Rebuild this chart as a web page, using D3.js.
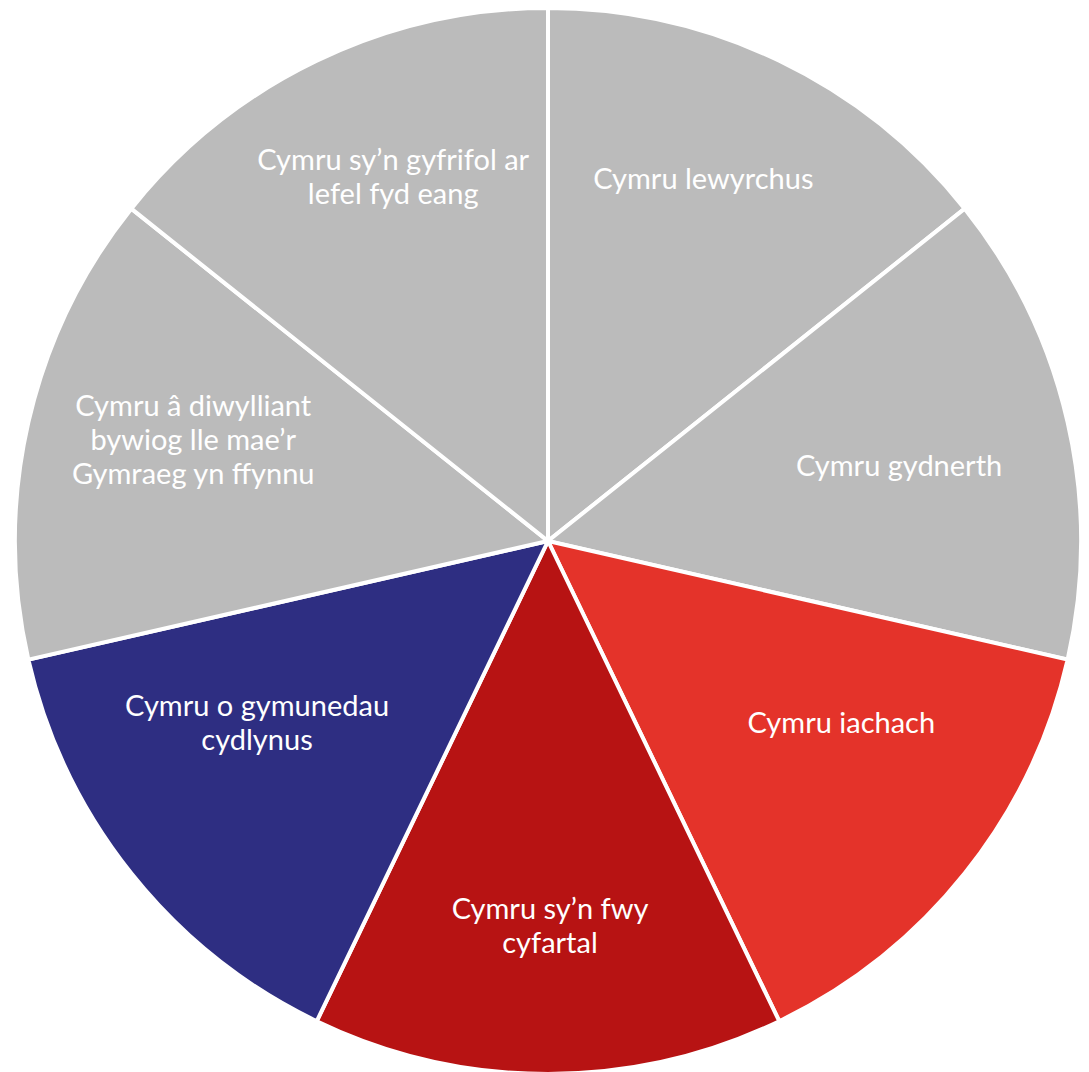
<!DOCTYPE html>
<html><head><meta charset="utf-8">
<script src="https://cdn.jsdelivr.net/npm/d3@7"></script>
<style>html,body{margin:0;padding:0;background:#fff;}</style>
</head><body>
<svg id="chart" width="1089" height="1072"></svg>
<script>
const categories = [
  ["Cymru lewyrchus"],
  ["Cymru gydnerth"],
  ["Cymru iachach"],
  ["Cymru sy\u2019n fwy", "cyfartal"],
  ["Cymru o gymunedau", "cydlynus"],
  ["Cymru \u00e2 diwylliant", "bywiog lle mae\u2019r", "Gymraeg yn ffynnu"],
  ["Cymru sy\u2019n gyfrifol ar", "lefel fyd  eang"]
];
const values = [1, 1, 1, 1, 1, 1, 1];
const colors = ["#BBBBBB", "#BBBBBB", "#E4332A", "#B71313", "#2E2E82", "#BBBBBB", "#BBBBBB"];
// label placement: [angle offset from slice middle (deg), distance from centre (px)]
const labelPlacement = [[-2.5, 394], [0.8, 359], [-6.8, 345], [-0.3, 385], [6.6, 343], [3.1, 369], [2.7, 396]];

const svg = d3.select("#chart");
const cx = 548, cy = 541, R = 533;
const g = svg.append("g").attr("transform", `translate(${cx},${cy})`);

const pie = d3.pie().sort(null).value(d => d)(values);
const arc = d3.arc().innerRadius(0).outerRadius(R);

g.selectAll("path.slice").data(pie).join("path")
  .attr("class", "slice")
  .attr("d", arc)
  .attr("fill", (d, i) => colors[i])
  .attr("stroke", "#fff")
  .attr("stroke-width", 4)
  .attr("stroke-linejoin", "miter");

const lineH = 34;
const labels = g.selectAll("text.lbl").data(pie).join("text")
  .attr("class", "lbl")
  .attr("text-anchor", "middle")
  .attr("fill", "#fff")
  .style("font-family", "Lato, 'Open Sans', sans-serif")
  .style("font-size", "29px")
  .attr("transform", (d, i) => {
    const a = (d.startAngle + d.endAngle) / 2 + labelPlacement[i][0] * Math.PI / 180;
    const r = labelPlacement[i][1];
    return `translate(${r * Math.sin(a)},${-r * Math.cos(a)})`;
  });

labels.each(function(d, i) {
  const lines = categories[i];
  const t = d3.select(this);
  const off = -(lines.length - 1) * lineH / 2;
  lines.forEach((ln, j) => {
    t.append("tspan").attr("x", 0).attr("y", off + j * lineH).attr("dy", "0.35em").text(ln);
  });
});
</script>
</body></html>
